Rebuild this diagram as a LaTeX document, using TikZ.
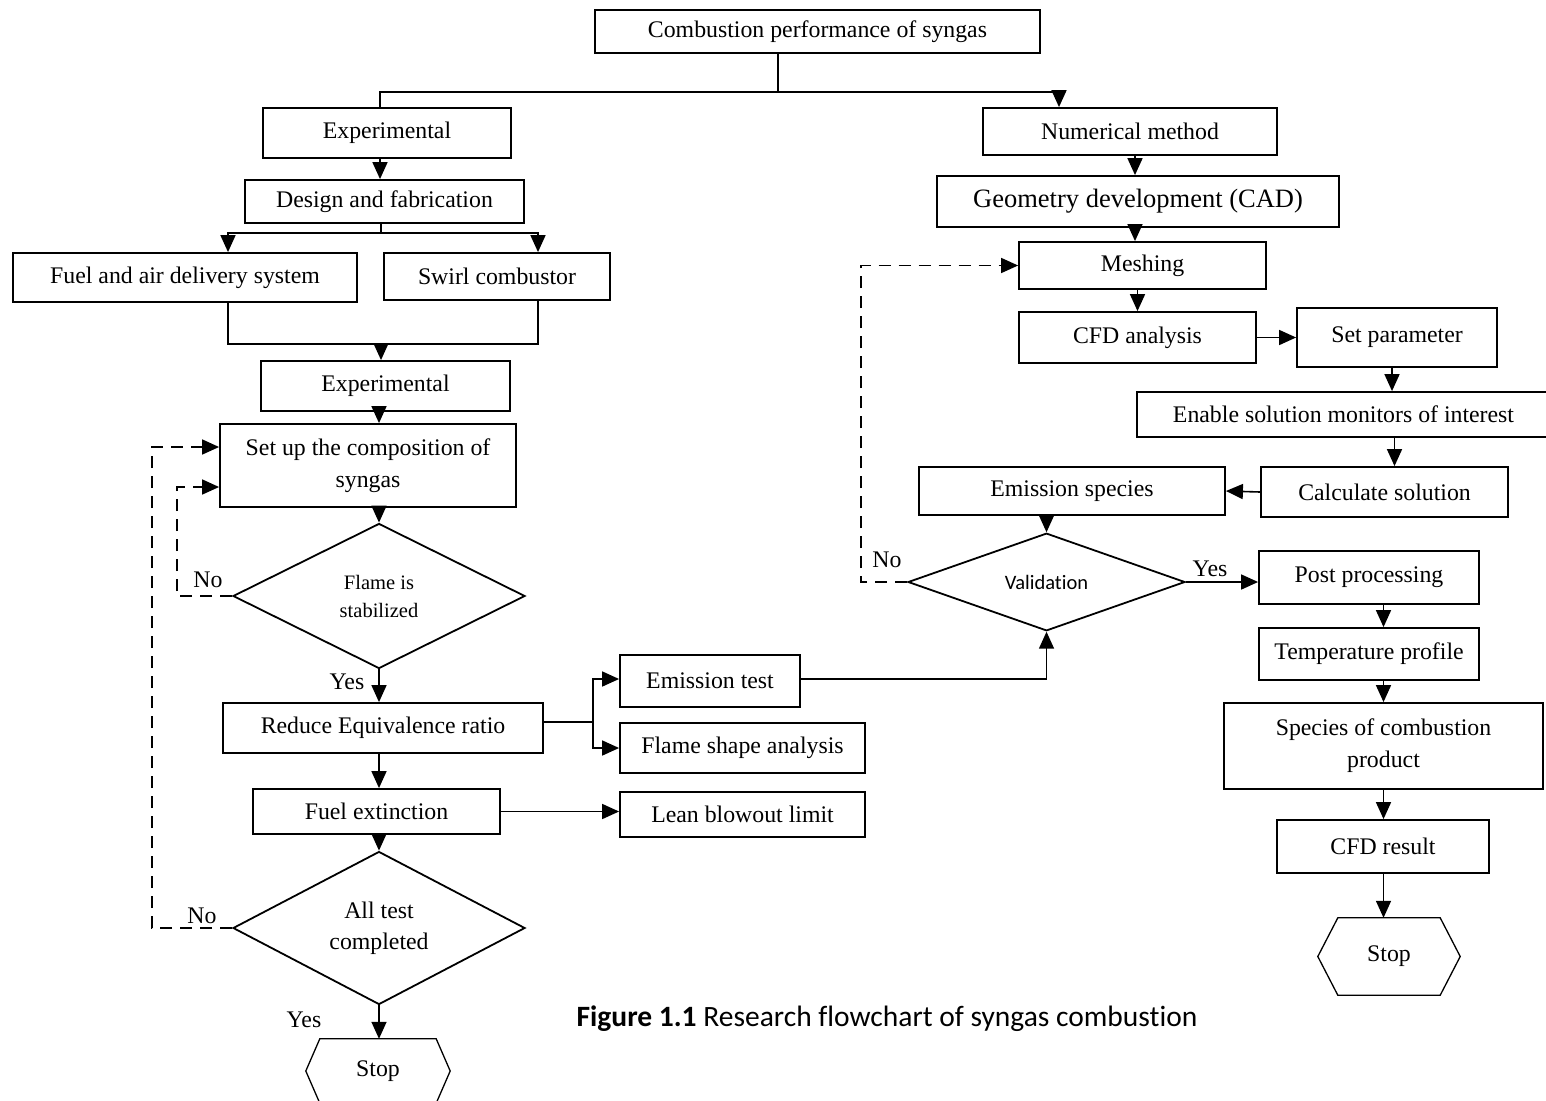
\documentclass[tikz,border=0pt]{standalone}
\usepackage{fontspec}
\setmainfont{Liberation Serif}
\newfontfamily\capfont[Ligatures=NoCommon]{Carlito}
\usetikzlibrary{shapes.geometric,arrows.meta,calc,positioning}
\tikzset{
  box/.style={draw, line width=1.8pt, rectangle, inner sep=2pt, align=center, font=\fontsize{23.8}{32}\selectfont},
  decision/.style={draw, line width=1.8pt, diamond, inner sep=0pt, align=center, font=\fontsize{23.8}{31}\selectfont},
  stopbox/.style={inner sep=0pt, font=\fontsize{23.8}{28}\selectfont},
  arr/.style={line width=1.6pt, -{Triangle[length=17pt,width=15pt]}},
  link/.style={line width=1.6pt},
  back/.style={line width=1.6pt, dash pattern=on 12pt off 8pt, -{Triangle[length=17pt,width=15pt]}},
  lbl/.style={font=\fontsize{23.8}{28}\selectfont, inner sep=0pt},
}
\begin{document}
\begin{tikzpicture}[x=1pt,y=-1pt]
                \useasboundingbox (0,0) rectangle (1546,1100);
                %Top
                \node[box, minimum width=445, minimum height=43] (top) at (817.5,31.5) {Combustion performance of syngas};
                \coordinate (split) at (778,92);
                %Experimental branch
                \node[box, minimum width=248, minimum height=50] (exp1) at (387,133) {Experimental};
                \node[box, minimum width=279, minimum height=43] (design) at (384.5,201.5) {Design and fabrication};
                \node[box, minimum width=344, minimum height=49] (fuelair) at (185,277.5) {Fuel and air delivery system};
                \node[box, minimum width=226, minimum height=47] (swirl) at (497,276.5) {Swirl combustor};
                \node[box, minimum width=249, minimum height=50] (exp2) at (385.5,386) {Experimental};
                \node[box, minimum width=296, minimum height=83] (setup) at (368,465.5) {Set up the composition of\\syngas};
                \node[decision, minimum width=292, minimum height=145, font=\fontsize{20.5}{28}\selectfont] (flame) at (379,596) {Flame is\\stabilized};
                \node[box, minimum width=320, minimum height=50] (reduce) at (383,728) {Reduce Equivalence ratio};
                \node[box, minimum width=180, minimum height=52] (emtest) at (710,681) {Emission test};
                \node[box, minimum width=245, minimum height=50] (flshape) at (742.5,748) {Flame shape analysis};
                \node[box, minimum width=247, minimum height=45] (fuelext) at (376.5,811.5) {Fuel extinction};
                \node[box, minimum width=245, minimum height=45] (lean) at (742.5,814.5) {Lean blowout limit};
                \node[decision, minimum width=292, minimum height=153] (alltest) at (379,928) {All test\\completed};
                \node[stopbox, minimum width=144, minimum height=64] (stopL) at (378,1071) {Stop};
                %Numerical branch
                \node[box, minimum width=294, minimum height=47] (num) at (1130,131.5) {Numerical method};
                \node[box, minimum width=402, minimum height=51, font=\fontsize{26.5}{32}\selectfont] (geom) at (1138,201.5) {Geometry development (CAD)};
                \node[box, minimum width=247, minimum height=47] (mesh) at (1142.5,265.5) {Meshing};
                \node[box, minimum width=237, minimum height=51] (cfd) at (1137.5,337.5) {CFD analysis};
                \node[box, minimum width=200, minimum height=59] (setpar) at (1397,337.5) {Set parameter};
                \node[box, minimum width=413, minimum height=45] (monitor) at (1343.5,414.5) {Enable solution monitors of interest};
                \node[box, minimum width=247, minimum height=50] (calc) at (1384.5,492) {Calculate solution};
                \node[box, minimum width=306, minimum height=48] (emspec) at (1072,491) {Emission species};
                \node[decision, minimum width=277, minimum height=93, font=\capfont\fontsize{20.5}{26}\selectfont] (valid) at (1046.5,582) {Validation};
                \node[box, minimum width=220, minimum height=53] (post) at (1369,577.5) {Post processing};
                \node[box, minimum width=220, minimum height=52] (temp) at (1369,654) {Temperature profile};
                \node[box, minimum width=319, minimum height=86] (species) at (1383.5,746) {Species of combustion\\product};
                \node[box, minimum width=212, minimum height=53] (cfdres) at (1383,846.5) {CFD result};
                \node[stopbox, minimum width=142, minimum height=77] (stopR) at (1389,956.5) {Stop};
                %Stop hexagons
                \foreach \s/\c in {stopL/14,stopR/20}
                  \draw[line width=1.3pt] (\s.west) -- ([xshift=\c]\s.north west) -- ([xshift=-\c]\s.north east) -- (\s.east)
                    -- ([xshift=-\c]\s.south east) -- ([xshift=\c]\s.south west) -- cycle;
                %Top split
                \draw[link] (top.south -| split) -- (split);
                \draw[link] (split) -| ([xshift=-7]exp1.north);
                \draw[arr] (split) -| ([xshift=-71]num.north);
                %Experimental arrows
                \draw[arr] ([xshift=-7]exp1.south) -- ([xshift=-7]exp1.south |- design.north);
                \coordinate (dsplit) at (381,233);
                \draw[link] (design.south -| dsplit) -- (dsplit);
                \draw[arr] (dsplit) -| ([xshift=43]fuelair.north);
                \draw[arr] (dsplit) -| ([xshift=41]swirl.north);
                \coordinate (msplit) at (381,344);
                \draw[link] ([xshift=43]fuelair.south) |- ([xshift=41]swirl.south |- msplit) -- ([xshift=41]swirl.south);
                \draw[arr] (msplit) -- (msplit |- exp2.north);
                \draw[arr] (flame.north |- exp2.south) -- (flame.north |- setup.north);
                \draw[arr] (flame.north |- setup.south) -- (flame.north);
                \draw[arr] (flame.south) -- (flame.south |- reduce.north);
                \coordinate (rsplit) at (593,722);
                \draw[link] (reduce.east |- rsplit) -- (rsplit);
                \draw[arr] (rsplit) |- ([yshift=2]emtest.west);
                \draw[arr] (rsplit) |- (flshape.west);
                \draw[arr] (flame.south |- reduce.south) -- (flame.south |- fuelext.north);
                \draw[arr] (fuelext.east) -- (fuelext.east -| lean.west);
                \draw[arr] (alltest.north |- fuelext.south) -- (alltest.north);
                \draw[arr] (alltest.south) -- (alltest.south |- stopL.north);
                \draw[arr] ([yshift=2]emtest.east) -| (valid.south);
                %Loops back
                \draw[back] (flame.west) -- ++(-55,0) |- ([yshift=-21.5]setup.west);
                \draw[back] (alltest.west) -- ++(-80,0) |- ([yshift=18.5]setup.west);
                \draw[back] (valid.west) -- ++(-46,0) |- (mesh.west);
                %Numerical arrows
                \draw[arr] ([xshift=5]num.south) -- ([xshift=5]num.south |- geom.north);
                \draw[arr] ([xshift=-3]geom.south) -- ([xshift=-3]geom.south |- mesh.north);
                \draw[arr] ([xshift=-5]mesh.south) -- ([xshift=-5]mesh.south |- cfd.north);
                \draw[arr] (cfd.east) -- (setpar.west);
                \draw[arr] ([xshift=-5]setpar.south) -- ([xshift=-5]setpar.south |- monitor.north);
                \draw[arr] ([xshift=10]calc.north |- monitor.south) -- ([xshift=10]calc.north);
                \draw[arr] (calc.west) -- (emspec.east);
                \draw[arr] (valid.north |- emspec.south) -- (valid.north);
                \draw[arr] (valid.east) -- (valid.east -| post.west);
                \draw[arr] (species.north |- post.south) -- (species.north |- temp.north);
                \draw[arr] (species.north |- temp.south) -- (species.north);
                \draw[arr] (species.south) -- (species.south |- cfdres.north);
                \draw[arr] (species.south |- cfdres.south) -- (species.south |- stopR.north);
                %Labels
                \node[lbl] (noA) at (208,580) {No};
                \node[lbl] (yesA) at (347,682) {Yes};
                \node[lbl] (noB) at (202,916) {No};
                \node[lbl] (yesB) at (304,1020) {Yes};
                \node[lbl] (noC) at (887,560) {No};
                \node[lbl] (yesC) at (1210,569) {Yes};
                \node[font=\capfont\fontsize{29.5}{32}\selectfont, inner sep=0pt] (caption) at (887,1019) {\textbf{Figure 1.1} Research flowchart of syngas combustion};
            \end{tikzpicture}
\end{document}
